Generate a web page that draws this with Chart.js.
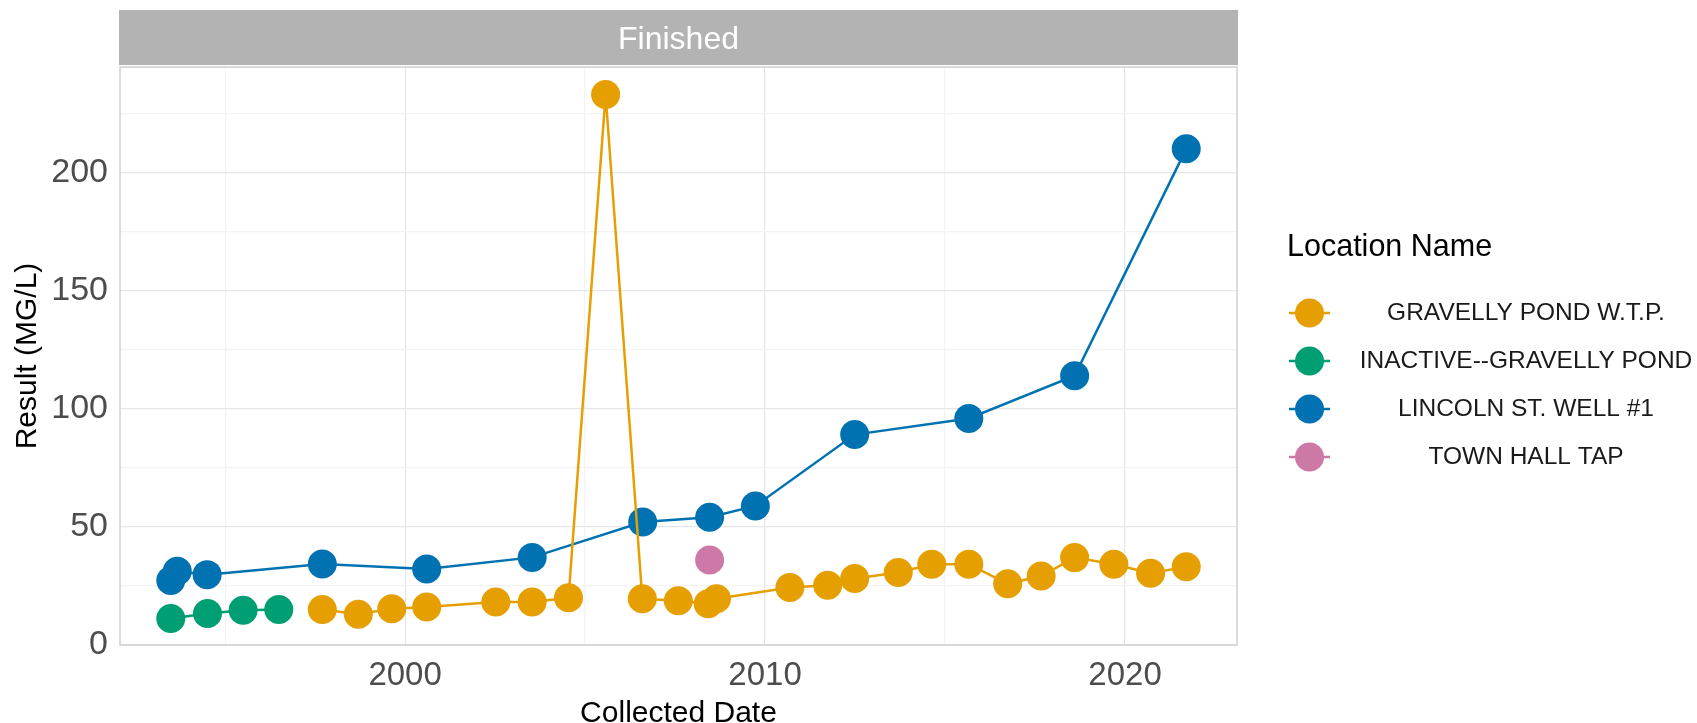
<!DOCTYPE html>
<html>
<head>
<meta charset="utf-8">
<title>Finished</title>
<script src="https://cdn.jsdelivr.net/npm/chart.js"></script>
<style>
  html, body { margin: 0; padding: 0; background: #fff; }
  #wrap { width: 1697px; height: 723px; }
</style>
</head>
<body>
<div id="wrap"><canvas id="chart" width="1697" height="723"></canvas></div>
<script>
// series (x = decimal year, y = result in MG/L)
const locationNames = ['GRAVELLY POND W.T.P.', 'INACTIVE--GRAVELLY POND', 'LINCOLN ST. WELL #1', 'TOWN HALL TAP'];
const locationColors = ['#E69F00', '#009E73', '#0072B2', '#CC79A7'];

const gravellyYears = [1997.70, 1998.70, 1999.63, 2000.60, 2002.52, 2003.53, 2004.54, 2005.57, 2006.59, 2007.59,
  2008.42, 2008.65, 2010.69, 2011.74, 2012.49, 2013.70, 2014.63, 2015.66, 2016.74, 2017.67, 2018.60, 2019.69, 2020.71, 2021.70];
const gravellyValues = [15.0, 13.0, 15.4, 16.1, 18.2, 18.2, 20.0, 233.1, 19.6, 18.7,
  17.5, 19.6, 24.3, 25.3, 28.2, 30.7, 34.2, 34.2, 25.9, 29.2, 37.0, 34.2, 30.4, 33.1];

const inactiveYears = [1993.49, 1994.51, 1995.50, 1996.49];
const inactiveValues = [11.2, 13.3, 14.7, 15.0];

const lincolnYears = [1993.49, 1993.67, 1994.50, 1997.70, 2000.60, 2003.53, 2006.60, 2008.46, 2009.73, 2012.49, 2015.66, 2018.60, 2021.70];
const lincolnValues = [27.3, 31.2, 29.8, 34.3, 32.2, 37.1, 52.1, 54.1, 58.9, 89.1, 95.9, 114.0, 210.1];

const townHallYears = [2008.46];
const townHallValues = [36.0];

const xTickStep = 5;   // labels every 10 years, minor grid every 5
const yTickStep = 25;  // labels every 50, minor grid every 25

const allYears = [gravellyYears, inactiveYears, lincolnYears, townHallYears];
const allValues = [gravellyValues, inactiveValues, lincolnValues, townHallValues];

const FONT = '"Liberation Sans", Arial, sans-serif';
const POINT_R = 14.5;

function pts(xs, ys) { return xs.map((x, i) => ({ x: x, y: ys[i] })); }

const datasets = [];
// points first (underneath), lines on top, as in the reference
locationNames.forEach((name, i) => {
  datasets.push({
    label: name,
    data: pts(allYears[i], allValues[i]),
    showLine: false,
    pointRadius: POINT_R,
    pointHoverRadius: POINT_R,
    pointBackgroundColor: locationColors[i],
    pointBorderWidth: 0,
    order: 1
  });
  if (allYears[i].length > 1) {
    datasets.push({
      label: name + ' line',
      data: pts(allYears[i], allValues[i]),
      showLine: true,
      pointRadius: 0,
      borderColor: locationColors[i],
      borderWidth: 2.5,
      order: 0
    });
  }
});

// data range with ggplot's 5% expansion
const xsFlat = allYears.flat();
const xMin = Math.min(...xsFlat), xMax = Math.max(...xsFlat);
const xPad = (xMax - xMin) * 0.05;
const yMax = Math.max(...allValues.flat()) * 1.05;

const stripAndLegend = {
  id: 'stripAndLegend',
  beforeDraw(chart) {
    const { ctx, chartArea: a } = chart;
    ctx.save();
    ctx.fillStyle = '#B3B3B3';
    ctx.fillRect(a.left - 1, 10, a.right - a.left + 2, 55);
    ctx.fillStyle = '#FFFFFF';
    ctx.font = '32px ' + FONT;
    ctx.textAlign = 'center';
    ctx.textBaseline = 'middle';
    ctx.fillText('Finished', (a.left + a.right) / 2, 40);
    ctx.restore();
  },
  afterDraw(chart) {
    const { ctx, chartArea: a } = chart;
    ctx.save();
    ctx.strokeStyle = '#D0D0D0';
    ctx.lineWidth = 1.5;
    ctx.strokeRect(a.left, a.top, a.right - a.left, a.bottom - a.top);

    // legend
    ctx.fillStyle = '#000';
    ctx.font = '30.5px ' + FONT;
    ctx.textAlign = 'left';
    ctx.textBaseline = 'middle';
    ctx.fillText('Location Name', 1287, 248);
    ctx.font = '24.5px ' + FONT;
    ctx.textAlign = 'center';
    locationNames.forEach((name, i) => {
      const y = 313 + i * 48;
      ctx.strokeStyle = locationColors[i];
      ctx.lineWidth = 2.5;
      ctx.beginPath();
      ctx.moveTo(1289, y);
      ctx.lineTo(1330, y);
      ctx.stroke();
      ctx.fillStyle = locationColors[i];
      ctx.beginPath();
      ctx.arc(1309.5, y, POINT_R, 0, Math.PI * 2);
      ctx.fill();
      ctx.fillStyle = '#1A1A1A';
      ctx.fillText(name, 1526, y);
    });
    ctx.restore();
  }
};

const majorGrid = '#E6E6E6';
const minorGrid = '#F3F3F3';

new Chart(document.getElementById('chart').getContext('2d'), {
  type: 'scatter',
  data: { datasets: datasets },
  options: {
    responsive: false,
    animation: false,
    layout: { padding: { top: 67, right: 460, bottom: 0, left: 0 } },
    plugins: { legend: { display: false }, tooltip: { enabled: false } },
    scales: {
      x: {
        type: 'linear',
        min: xMin - xPad,
        max: xMax + xPad,
        afterFit: s => { s.height = 78; },
        border: { display: false },
        grid: {
          drawTicks: false,
          color: c => (c.tick && c.tick.value % 10 === 0) ? majorGrid : minorGrid,
          lineWidth: 1.2
        },
        ticks: {
          stepSize: xTickStep,
          includeBounds: false,
          padding: 11,
          color: '#4D4D4D',
          font: { family: FONT, size: 33 },
          maxRotation: 0,
          autoSkip: false,
          callback: v => (v % 10 === 0 ? String(v) : '')
        },
        title: {
          display: true,
          text: 'Collected Date',
          color: '#000',
          font: { family: FONT, size: 30, lineHeight: 1 },
          padding: { top: 0, bottom: -6 }
        }
      },
      y: {
        type: 'linear',
        min: 0,
        max: yMax,
        afterFit: s => { s.width = 120; },
        border: { display: false },
        grid: {
          drawTicks: false,
          color: c => (c.tick && c.tick.value % 50 === 0) ? majorGrid : minorGrid,
          lineWidth: 1.2
        },
        ticks: {
          stepSize: yTickStep,
          includeBounds: false,
          padding: 12,
          color: '#4D4D4D',
          font: { family: FONT, size: 34 },
          autoSkip: false,
          callback: v => (v % 50 === 0 ? String(v) : '')
        },
        title: {
          display: true,
          text: 'Result (MG/L)',
          color: '#000',
          font: { family: FONT, size: 30, lineHeight: 1.2 },
          padding: { top: 10, bottom: 0 }
        }
      }
    }
  },
  plugins: [stripAndLegend]
});
</script>
</body>
</html>
